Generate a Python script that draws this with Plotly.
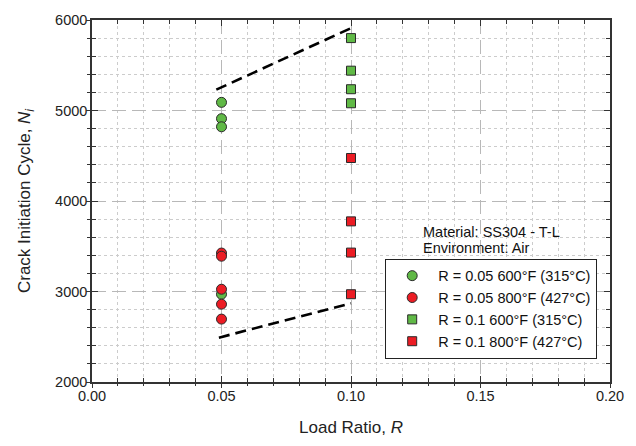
import plotly.graph_objects as go

# Crack initiation cycles by load ratio and test temperature
r_005_600F = [0.05, 0.05, 0.05, 0.05]
n_005_600F = [5090, 4910, 4820, 2970]

r_005_800F = [0.05, 0.05, 0.05, 0.05, 0.05]
n_005_800F = [3425, 3390, 3025, 2860, 2695]

r_01_600F = [0.10, 0.10, 0.10, 0.10]
n_01_600F = [5800, 5440, 5235, 5080]

r_01_800F = [0.10, 0.10, 0.10, 0.10]
n_01_800F = [4475, 3775, 3430, 2970]

# Upper and lower bounding lines
upper_r = [0.048, 0.100]
upper_n = [5230, 5910]
lower_r = [0.049, 0.100]
lower_n = [2490, 2870]

X_RANGE = [0, 0.2]
Y_RANGE = [2000, 6000]

GREEN = "#60b946"
RED = "#ec1c24"
EDGE = "#2a2a2a"
AXIS = "#333333"
FONT = "Liberation Sans, Arial, sans-serif"
FS = 14.5

fig = go.Figure()

dash_line = dict(color="black", width=2.6, dash="11px,6px")
fig.add_trace(go.Scatter(x=upper_r, y=upper_n, mode="lines", line=dash_line,
                         showlegend=False, hoverinfo="skip"))
fig.add_trace(go.Scatter(x=lower_r, y=lower_n, mode="lines", line=dash_line,
                         showlegend=False, hoverinfo="skip"))

fig.add_trace(go.Scatter(
    x=r_005_600F, y=n_005_600F, mode="markers", name="R = 0.05 600°F (315°C)",
    marker=dict(symbol="circle", size=10, color=GREEN, line=dict(color=EDGE, width=1))))
fig.add_trace(go.Scatter(
    x=r_005_800F, y=n_005_800F, mode="markers", name="R = 0.05 800°F (427°C)",
    marker=dict(symbol="circle", size=10, color=RED, line=dict(color=EDGE, width=1))))
fig.add_trace(go.Scatter(
    x=r_01_600F, y=n_01_600F, mode="markers", name="R = 0.1 600°F (315°C)",
    marker=dict(symbol="square", size=9, color=GREEN, line=dict(color=EDGE, width=1))))
fig.add_trace(go.Scatter(
    x=r_01_800F, y=n_01_800F, mode="markers", name="R = 0.1 800°F (427°C)",
    marker=dict(symbol="square", size=9, color=RED, line=dict(color=EDGE, width=1))))

axis_common = dict(
    showline=True, linecolor=AXIS, linewidth=1.5, mirror="ticks",
    ticks="inside", ticklen=6, tickcolor=AXIS, tickwidth=1.2,
    showgrid=True, gridcolor="#b8b8b8", gridwidth=1, griddash="14px,6px",
    zeroline=False, tickfont=dict(family=FONT, size=FS, color="#222222"),
)

fig.update_xaxes(
    range=X_RANGE, dtick=0.05, tickformat=".2f",
    title=dict(text="Load Ratio, <i>R</i>", font=dict(family=FONT, size=17, color="#222222"),
               standoff=18),
    minor=dict(dtick=0.01, ticks="inside", ticklen=4, tickcolor=AXIS,
               showgrid=True, gridcolor="#cccccc", griddash="dot", gridwidth=1),
    **axis_common,
)
fig.update_yaxes(
    range=Y_RANGE, dtick=1000,
    title=dict(text="Crack Initiation Cycle, <i>N</i><sub><i>i</i></sub>",
               font=dict(family=FONT, size=17, color="#222222"), standoff=20),
    minor=dict(dtick=200, ticks="inside", ticklen=4, tickcolor=AXIS,
               showgrid=True, gridcolor="#cccccc", griddash="dot", gridwidth=1),
    **axis_common,
)

# Outward half of the crossing ticks on the left and bottom axes
fig.update_layout(
    xaxis2=dict(overlaying="x", side="bottom", range=X_RANGE, dtick=0.05,
                ticks="outside", ticklen=5, tickcolor=AXIS, tickwidth=1.2,
                showticklabels=False, showgrid=False, zeroline=False, showline=False,
                minor=dict(dtick=0.01, ticks="outside", ticklen=3, tickcolor=AXIS)),
    yaxis2=dict(overlaying="y", side="left", range=Y_RANGE, dtick=1000,
                ticks="outside", ticklen=5, tickcolor=AXIS, tickwidth=1.2,
                showticklabels=False, showgrid=False, zeroline=False, showline=False,
                minor=dict(dtick=200, ticks="outside", ticklen=4, tickcolor=AXIS)),
)
fig.add_trace(go.Scatter(x=[None], y=[None], xaxis="x2", yaxis="y2",
                         showlegend=False, hoverinfo="skip"))

fig.add_annotation(x=0.636, y=0.415, xref="paper", yref="paper", xanchor="left",
                   yanchor="middle", showarrow=False, text="Material: SS304 - T-L",
                   font=dict(family=FONT, size=FS, color="#111111"))
fig.add_annotation(x=0.636, y=0.369, xref="paper", yref="paper", xanchor="left",
                   yanchor="middle", showarrow=False, text="Environment: Air",
                   font=dict(family=FONT, size=FS, color="#111111"))

fig.update_layout(
    width=636, height=446,
    margin=dict(l=92, r=17, t=14, b=60),
    paper_bgcolor="white", plot_bgcolor="white",
    font=dict(family=FONT, size=FS, color="#111111"),
    legend=dict(x=0.566, y=0.3405, xanchor="left", yanchor="top",
                bgcolor="white", bordercolor="#222222", borderwidth=1,
                font=dict(family=FONT, size=FS, color="#111111"),
                itemwidth=42, tracegroupgap=0),
)

fig.write_html("out.html")
